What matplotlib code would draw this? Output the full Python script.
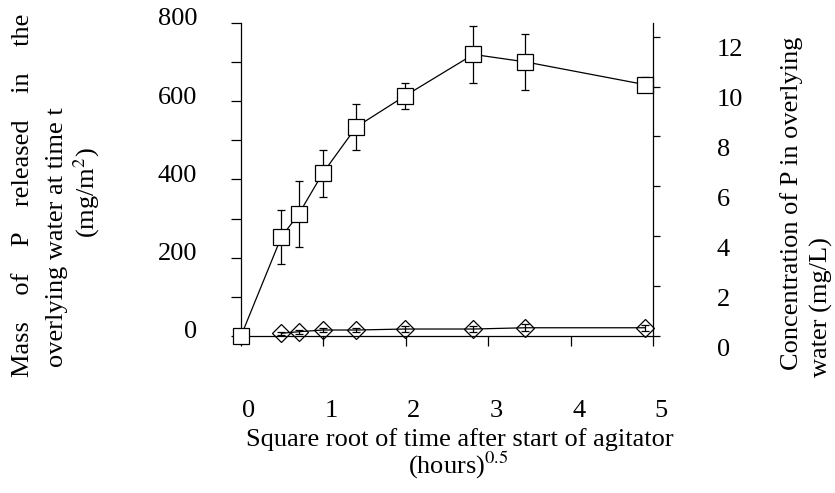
import numpy as np
import matplotlib
matplotlib.use('Agg')
import matplotlib.pyplot as plt
from matplotlib.transforms import ScaledTranslation

plt.rcParams['font.family'] = 'Liberation Serif'
plt.rcParams['mathtext.fontset'] = 'stix'

### -------- data ----------------------------------------
sqrt_t = [0.0, 0.49, 0.70, 0.99, 1.40, 1.99, 2.82, 3.45, 4.90]
mass = [0, 253, 311, 415, 534, 613, 719, 700, 642]
mass_err = [0, 68, 85, 61, 59, 33, 73, 71, 20]

sqrt_t_c = [0.49, 0.70, 0.99, 1.40, 1.99, 2.82, 3.45, 4.90]
conc = [0.11, 0.17, 0.24, 0.24, 0.28, 0.28, 0.33, 0.33]
conc_err = [0.05, 0.07, 0.09, 0.09, 0.11, 0.13, 0.14, 0.12]

xticks = [0, 1, 2, 3, 4, 5]
left_major = [0, 200, 400, 600, 800]
left_minor = [100, 300, 500, 700]
right_ticks = [0, 2, 4, 6, 8, 10, 12]

W, H = 835, 493
fig = plt.figure(figsize=(W/100., H/100.), dpi=100)
ax = fig.add_axes([241./W, 1-336./H, (653.-241.)/W, (336.-22.7)/H])
ax2 = ax.twinx()

lw = 0.9
ax.errorbar(sqrt_t, mass, yerr=mass_err, fmt='s-', color='black', mfc='white',
            mec='black', ms=11, mew=lw, lw=lw, elinewidth=lw, capsize=3, capthick=lw,
            clip_on=False, zorder=3)
ax2.errorbar(sqrt_t_c, conc, yerr=conc_err, fmt='D-', color='black', mfc='none',
             mec='black', ms=9.5, mew=lw, lw=lw, elinewidth=lw, capsize=3, capthick=lw,
             clip_on=False, zorder=3)

ax.set_xlim(0, 5)
ax.set_ylim(0, 800)
ax2.set_ylim(0, (336.-22.7)/24.95)

for a in (ax, ax2):
    a.spines['top'].set_visible(False)
    for s in a.spines.values():
        s.set_linewidth(lw)
ax.spines['right'].set_visible(False)
ax2.spines['left'].set_visible(False)
ax2.spines['bottom'].set_visible(False)

ax.set_xticks(xticks)
ax.set_yticks(left_major)
ax.set_yticks(left_minor, minor=True)
ax2.set_yticks(right_ticks)

ax.tick_params(axis='x', which='both', direction='out', length=7, width=lw,
               labelsize=19, pad=39, top=False)
ax.tick_params(axis='y', which='both', direction='out', length=7.5, width=lw,
               labelsize=19, pad=24, right=False)
ax2.tick_params(axis='y', direction='out', length=5, width=lw,
                labelsize=19, pad=41)

# the labels in the original sit a little off their ticks
for lab in ax.get_xticklabels():
    lab.set_transform(lab.get_transform() + ScaledTranslation(0.08, 0, fig.dpi_scale_trans))
for lab in ax.get_yticklabels():
    lab.set_transform(lab.get_transform() + ScaledTranslation(0, 0.06, fig.dpi_scale_trans))
for lab in ax2.get_yticklabels():
    lab.set_transform(lab.get_transform() + ScaledTranslation(0, -0.11, fig.dpi_scale_trans))

fs = 19
# x label, two lines
fig.text(460./W, 1-446./H, 'Square root of time after start of agitator',
         ha='center', va='baseline', fontsize=fs)
fig.text(458./W, 1-474./H, '(hours)$^{0.5}$', ha='center', va='baseline', fontsize=fs)

# left label, justified first line
fig.text(23./W, 1-195./H, 'Mass    of    P    released    in    the', rotation=90,
         ha='center', va='center', fontsize=fs)
fig.text(57./W, 1-367./H, 'overlying water at time t', rotation=90,
         ha='center', va='bottom', fontsize=fs)
fig.text(87./W, 1-193./H, '(mg/m$^2$)', rotation=90,
         ha='center', va='center', fontsize=fs)

# right label
fig.text(791.7/W, 1-370./H, 'Concentration of P in overlying', rotation=90,
         ha='center', va='bottom', fontsize=fs)
fig.text(821.7/W, 1-377./H, 'water (mg/L)', rotation=90,
         ha='center', va='bottom', fontsize=fs)

fig.savefig('out.png', dpi=100)
plt.close()
